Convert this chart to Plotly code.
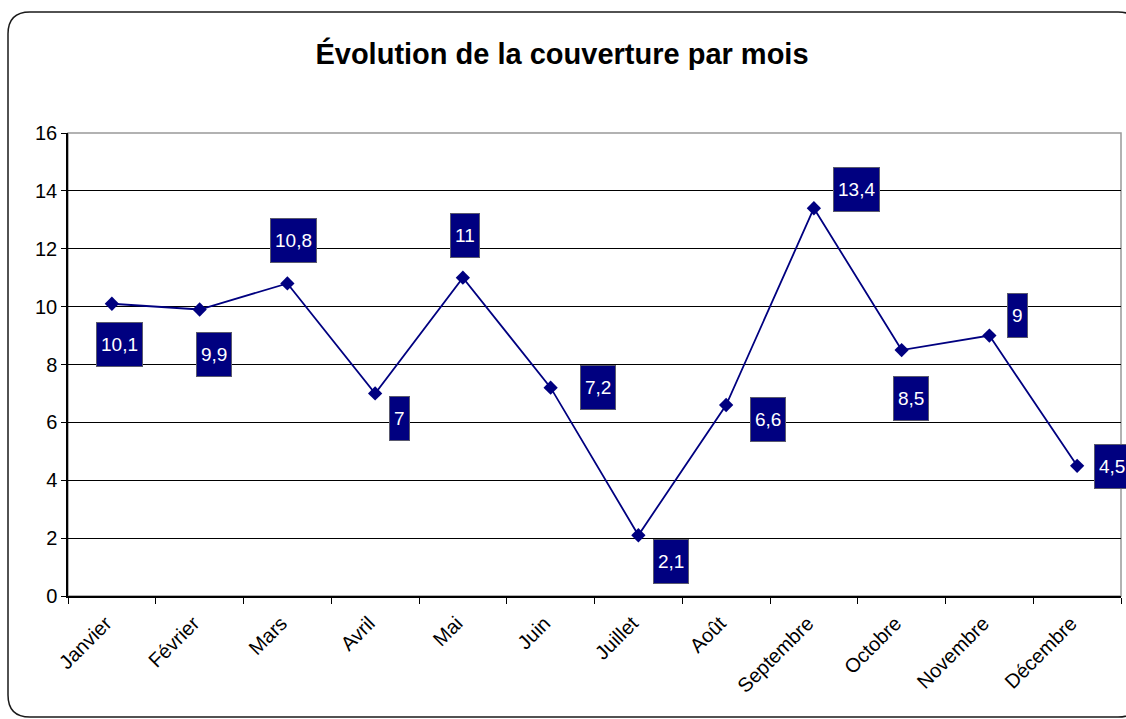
import plotly.graph_objects as go

# Monthly coverage values
months = ["Janvier", "Février", "Mars", "Avril", "Mai", "Juin",
          "Juillet", "Août", "Septembre", "Octobre", "Novembre", "Décembre"]
coverage = [10.1, 9.9, 10.8, 7.0, 11.0, 7.2, 2.1, 6.6, 13.4, 8.5, 9.0, 4.5]
value_labels = ["10,1", "9,9", "10,8", "7", "11", "7,2", "2,1", "6,6", "13,4", "8,5", "9", "4,5"]
y_ticks = [0, 2, 4, 6, 8, 10, 12, 14, 16]

# Pixel offsets of each value box relative to its point (right, up)
label_dx = [8, 14, 6, 24, 2, 47, 33, 42, 43, 9, 28, 35]
label_dy = [-41, -45, 43, -25, 42, 0, -26, -14, 19, -48, 20, -1]

W, H = 1126, 719
L, R, T, B = 68, 5, 133, 123
FONT = "Liberation Sans, Arial, sans-serif"
NAVY = "#000080"

plot_w = W - L - R
plot_h = H - T - B


def px_x(p):
    return (p - L) / plot_w


def px_y(p):
    return (H - B - p) / plot_h


fig = go.Figure()
fig.add_trace(go.Scatter(
    x=months, y=coverage, mode="lines+markers",
    line=dict(color=NAVY, width=1.8),
    marker=dict(symbol="diamond", size=11, color=NAVY),
    hoverinfo="skip", showlegend=False,
))

for m, v, t, dx, dy in zip(months, coverage, value_labels, label_dx, label_dy):
    fig.add_annotation(
        x=m, y=v, text=t, showarrow=False, xshift=dx, yshift=dy,
        font=dict(family=FONT, size=19, color="white"),
        bgcolor=NAVY, bordercolor="#5a5a6e", borderwidth=1, borderpad=4,
        height=35, xanchor="center", yanchor="middle",
    )

# Rounded outer frame of the chart
x0, x1 = px_x(8), px_x(1140)
y0, y1 = px_y(717), px_y(12)
rx, ry = 22 / plot_w, 22 / plot_h
frame = (f"M {x0 + rx},{y1} L {x1 - rx},{y1} Q {x1},{y1} {x1},{y1 - ry} "
         f"L {x1},{y0 + ry} Q {x1},{y0} {x1 - rx},{y0} "
         f"L {x0 + rx},{y0} Q {x0},{y0} {x0},{y0 + ry} "
         f"L {x0},{y1 - ry} Q {x0},{y1} {x0 + rx},{y1} Z")
fig.add_shape(type="path", path=frame, xref="paper", yref="paper",
              line=dict(color="#1a1a1a", width=1.5), layer="below")

# Gray plot-area border (top and right)
fig.add_shape(type="rect", x0=0, x1=1, y0=0, y1=1, xref="paper", yref="paper",
              line=dict(color="#999999", width=1.5), layer="between")

fig.update_layout(
    width=W, height=H,
    margin=dict(l=L, r=R, t=T, b=B),
    paper_bgcolor="white", plot_bgcolor="white",
    font=dict(family=FONT, size=19, color="black"),
    title=dict(text="<b>Évolution de la couverture par mois</b>",
               font=dict(family=FONT, size=29, color="black"),
               x=562 / W, xanchor="center", xref="container",
               y=1 - 54 / H, yanchor="middle", yref="container"),
    xaxis=dict(type="category", range=[-0.5, 11.5], tickangle=-45,
               tickson="boundaries", ticks="outside", ticklen=6, tickcolor="black",
               ticklabelshift=-6, ticklabelstandoff=6,
               showline=True, linecolor="black", linewidth=1.5, showgrid=False,
               tickfont=dict(family=FONT, size=20, color="black")),
    yaxis=dict(range=[0, 16], tickvals=y_ticks, ticktext=[str(v) for v in y_ticks],
               ticks="outside", ticklen=5, tickcolor="black",
               showline=True, linecolor="black", linewidth=1.5,
               showgrid=True, gridcolor="black", gridwidth=1, zeroline=False,
               tickfont=dict(family=FONT, size=20, color="black")),
)

fig.write_html("out.html")
